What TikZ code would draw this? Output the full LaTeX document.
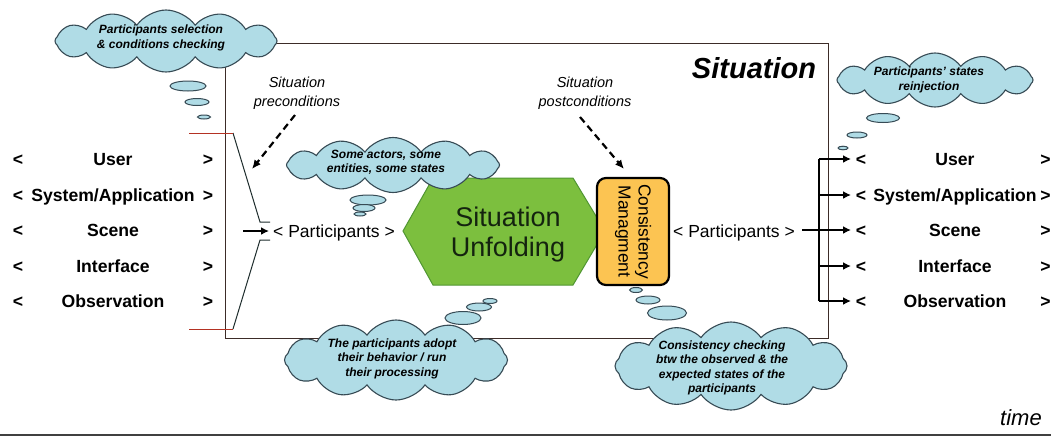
\documentclass[tikz,border=0pt]{standalone}
\usepackage{fontspec}
\setmainfont{Liberation Sans}
\usetikzlibrary{shapes.symbols,arrows.meta}
\definecolor{cloudfill}{RGB}{176,220,230}
\definecolor{cloudline}{RGB}{55,75,85}
\definecolor{hexfill}{RGB}{124,191,62}
\definecolor{hexline}{RGB}{80,150,50}
\definecolor{hextext}{RGB}{20,35,15}
\definecolor{boxfill}{RGB}{252,196,82}
\definecolor{framecol}{RGB}{60,44,40}
\definecolor{bracred}{RGB}{180,50,35}
\definecolor{bracdark}{RGB}{30,45,45}
\tikzset{
  cloudshape/.style={cloud, cloud puffs=12, cloud puff arc=110, cloud ignores aspect,
    draw=cloudline, fill=cloudfill, line width=1.1pt, inner sep=0pt},
  cloudtext/.style={align=center, inner sep=0pt, font=\fontsize{12}{14.5}\selectfont\bfseries\itshape},
  bubble/.style={draw=cloudline, fill=cloudfill, line width=1pt},
  item/.style={anchor=base, inner sep=0pt, font=\fontsize{17.6}{20}\selectfont\bfseries},
  partxt/.style={anchor=base west, inner sep=0pt, font=\fontsize{17.5}{20}\selectfont},
  condtxt/.style={align=center, inner sep=0pt, font=\fontsize{14.5}{19}\selectfont\itshape},
  dasharrow/.style={line width=2.2pt, dash pattern=on 7pt off 4.5pt, -{Latex[length=9pt,width=8pt]}},
  thickarrow/.style={line width=2.4pt, -{Latex[length=8pt,width=8pt]}},
}
\begin{document}
\begin{tikzpicture}[x=1pt,y=-1pt]
\useasboundingbox[fill=white] (0,0) rectangle (1051,437);

% situation frame
\draw[framecol, line width=1pt] (225,43) rectangle (828,338);
\node[anchor=center, inner sep=0pt, font=\fontsize{29}{30}\selectfont\bfseries\itshape] (sit) at (754,68) {Situation};

% left bracket
\draw[bracdark, line width=1pt] (233,133) -- (260,222) -- (270,222);
\draw[bracdark, line width=1pt] (270,240) -- (260,240) -- (233,329);
\draw[bracred, line width=1pt] (189,133) -- (233,133);
\draw[bracred, line width=1pt] (189,329) -- (233,329);

% hexagon
\draw[hexline, fill=hexfill, line width=1pt] (403,231) -- (433,178) -- (573,178) -- (605,231) -- (573,285) -- (433,285) -- cycle;
\node[align=center, inner sep=0pt, text=hextext, font=\fontsize{27}{30}\selectfont] (unf) at (508,235) {Situation\\Unfolding};

% consistency box
\node[draw=black, fill=boxfill, line width=2.2pt, rounded corners=9pt, rotate=-90,
      minimum width=107pt, minimum height=72pt, inner sep=0pt, align=center,
      font=\fontsize{17.4}{20}\selectfont] (cm) at (633,231.5) {Consistency\\Managment};

% participants labels
\node[partxt] (pl) at (273,237.3) {< Participants >};
\node[partxt] (pr) at (673,237.5) {< Participants >};

% conditions
\node[condtxt] (pre) at (297,93) {Situation\\preconditions};
\node[condtxt] (post) at (585,93) {Situation\\postconditions};
\coordinate (preA) at (295,115);
\coordinate (preB) at (252,169);
\coordinate (postA) at (580,117);
\coordinate (postB) at (624,169);
\draw[dasharrow] (preA) -- (preB);
\draw[dasharrow] (postA) -- (postB);

% clouds
\node[cloudshape, minimum width=222pt, minimum height=62pt] (c1) at (166,41) {};
\node[cloudtext] (t1) at (161,38) {Participants selection\\\& conditions checking};
\draw[bubble] (188,86) ellipse (18 and 5);
\draw[bubble] (197,102) ellipse (12 and 3.5);
\draw[bubble] (204,117) ellipse (6.5 and 2);

\node[cloudshape, minimum width=213pt, minimum height=55pt] (c2) at (393,165) {};
\node[cloudtext] (t2) at (386,162) {Some actors, some\\entities, some states};
\draw[bubble] (368,200) ellipse (18 and 5);
\draw[bubble] (364,208) ellipse (11 and 3.5);
\draw[bubble] (360,214) ellipse (6 and 2);

\node[cloudshape, minimum width=223pt, minimum height=80pt] (c3) at (396,360) {};
\node[cloudtext] (t3) at (392,358.5) {The participants adopt\\their behavior / run\\their processing};
\draw[bubble] (463,318) ellipse (18 and 6.5);
\draw[bubble] (479,307) ellipse (12.5 and 4);
\draw[bubble] (490,301) ellipse (7 and 2.5);

\node[cloudshape, minimum width=232pt, minimum height=88pt] (c4) at (731,366) {};
\node[cloudtext] (t4) at (722,368) {Consistency checking\\btw the observed \& the\\expected states of the\\participants};
\draw[bubble] (667,313) ellipse (19.5 and 7);
\draw[bubble] (648,300) ellipse (12 and 4);
\draw[bubble] (636,290) ellipse (6.5 and 2.5);

\node[cloudshape, minimum width=196pt, minimum height=54pt] (c5) at (935,80) {};
\node[cloudtext] (t5) at (929,80) {Participants' states\\reinjection};
\draw[bubble] (883,118) ellipse (16.5 and 4.5);
\draw[bubble] (857,135) ellipse (10 and 3);
\draw[bubble] (843,148) ellipse (5 and 1.8);

% left list
\foreach \n/\lab/\y in {1/User/159,2/System\slash Application/195,3/Scene/230,4/Interface/266,5/Observation/301}{
  \node[item] (ll\n) at (18,\y+6.3) {<};
  \node[item] (lm\n) at (113,\y+6.3) {\lab};
  \node[item] (lr\n) at (208,\y+6.3) {>};
}
% right list
\foreach \n/\lab/\y in {1/User/159,2/System\slash Application/195,3/Scene/230,4/Interface/266,5/Observation/301}{
  \node[item] (rl\n) at (861,\y+6.3) {<};
  \node[item] (rm\n) at (955,\y+6.3) {\lab};
  \node[item] (rr\n) at (1045.5,\y+6.3) {>};
  \coordinate (bar\n) at (819,\y);
  \coordinate (tip\n) at (851,\y);
}

% arrows
\coordinate (lin) at (243,231);
\coordinate (lout) at (269,231);
\draw[thickarrow] (lin) -- (lout);
\coordinate (pout) at (802,230);
\draw[line width=2.4pt] (bar1) -- (bar5);
\draw[line width=2.4pt] (pout) -- (bar3);
\foreach \n in {1,...,5}{\draw[thickarrow] (bar\n) -- (tip\n);}

% time axis
\draw[line width=2pt, draw=black!75] (0,434.5) -- (1051,434.5);
\node[inner sep=0pt, font=\fontsize{22}{24}\selectfont\itshape] (time) at (1021,418) {time};
\end{tikzpicture}
\end{document}
